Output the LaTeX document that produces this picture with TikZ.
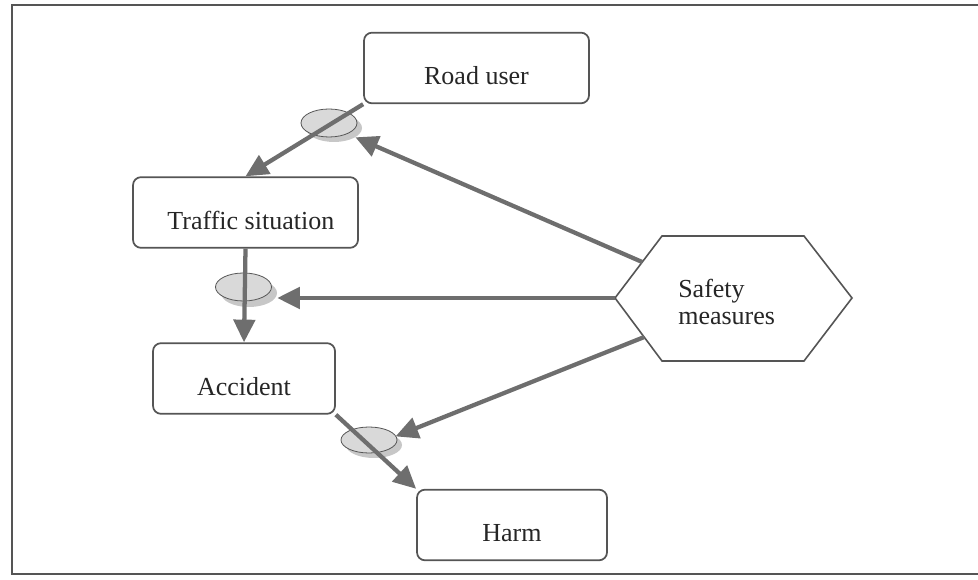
\documentclass[tikz,border=0pt]{standalone}
\usepackage{fontspec}
\setmainfont{Liberation Serif}
\usetikzlibrary{arrows.meta,shapes.geometric,calc}
\definecolor{linkgray}{HTML}{6E6E6E}
\definecolor{edgegray}{HTML}{555555}
\definecolor{ovalfill}{HTML}{D9D9D9}
\definecolor{ovalshade}{HTML}{B4B4B4}
\begin{document}
\begin{tikzpicture}[x=0.75pt,y=-0.75pt,
  stage/.style={draw=edgegray, line width=1.3pt, rounded corners=6pt, fill=white,
    font=\fontsize{19.5}{23}\selectfont, text=black!85,
    text height=24.8pt, text depth=0pt, minimum height=53pt, inner sep=0pt},
  oval/.style={ellipse, draw=edgegray, line width=0.6pt, fill=ovalfill,
    minimum width=42pt, minimum height=21pt, inner sep=0pt},
  ovalshadow/.style={ellipse, fill=ovalshade, opacity=0.75,
    minimum width=42pt, minimum height=21pt, inner sep=0pt},
  link/.style={draw=linkgray, line width=3.2pt, -{Triangle[length=17pt,width=16pt]}},
  frameline/.style={draw=edgegray, line width=1.5pt}]

\useasboundingbox (0,0) rectangle (978,580);
\clip (0,0) rectangle (978,580);

% outer frame
\draw[frameline] (990,5) -- (12,5) -- (12,574) -- (990,574);

% stages of the accident chain
\node[stage, minimum width=168.75pt] (road) at (476.5,68) {Road user};
\node[stage, minimum width=168.75pt] (trf) at (245.5,212.5) {\hspace{8pt}Traffic situation};
\node[stage, minimum width=136.5pt] (acc) at (244,378.5) {Accident};
\node[stage, minimum width=142.5pt] (harm) at (512,525) {Harm};

% safety measures hexagon
\coordinate (hl) at (615,298);
\coordinate (htl) at (662,236);
\coordinate (htr) at (804,236);
\coordinate (hr) at (852,298);
\coordinate (hbr) at (804,361);
\coordinate (hbl) at (662,361);
\draw[draw=edgegray, line width=1.2pt, fill=white]
  (hl) -- (htl) -- (htr) -- (hr) -- (hbr) -- (hbl) -- cycle;
\node[anchor=west, align=left, font=\fontsize{19.5}{20.5}\selectfont, text=black!85,
  inner sep=0pt] (sm) at (678,302) {Safety\\measures};
\coordinate (s1) at ($(hl)!0.58!(htl)$);
\coordinate (s2) at (hl);
\coordinate (s3) at ($(hl)!0.62!(hbl)$);

% intervention points with their shadows
\node[ovalshadow] (sh1) at (334,128) {};
\node[ovalshadow] (sh2) at (249,293) {};
\node[ovalshadow, minimum height=19.5pt] (sh3) at (374,445) {};
\node[oval] (e1) at (329,123) {};
\node[oval] (e2) at (243.5,287) {};
\node[oval, minimum height=19.5pt] (e3) at (369,440) {};

% chain connectors
\draw[link] (road.south west) -- (trf.north);
\draw[link] (trf.south) -- (acc.north);
\draw[link] (acc.south east) -- (harm.north west);

% measures acting on the chain
\draw[link] (s1) -- (sh1);
\draw[link] (s2) -- (sh2.east |- s2);
\draw[link] (s3) -- (sh3);
\end{tikzpicture}
\end{document}
